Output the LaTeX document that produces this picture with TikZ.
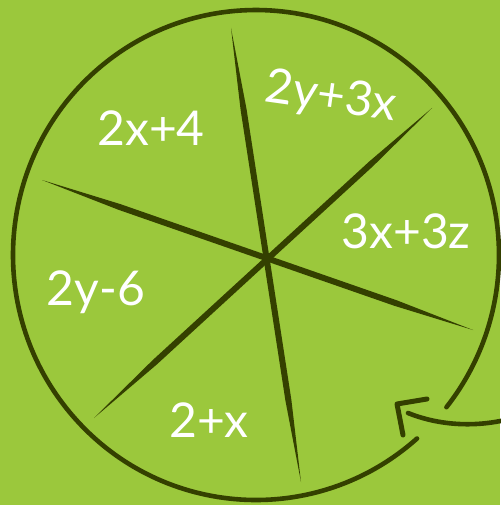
\documentclass[tikz,border=0pt]{standalone}
\usepackage{fontspec}
\setmainfont{Lato}
\usetikzlibrary{calc}
\definecolor{bg}{RGB}{155,200,60}
\definecolor{ink}{RGB}{52,64,0}
\newcommand\taperline[3]{%
 \fill[ink] (#1) -- ($(#1)!0.18!(#2)!#3!90:(#2)$) -- ($(#1)!0.82!(#2)!#3!90:(#2)$) -- (#2) -- ($(#1)!0.82!(#2)!#3!-90:(#2)$) -- ($(#1)!0.18!(#2)!#3!-90:(#2)$) -- cycle;}
\tikzset{
  lbl/.style={text=white, font=\fontsize{48}{48}\selectfont, inner sep=0pt},
  stroke/.style={draw=ink, line width=4.6pt, line cap=round, line join=round}
}
\begin{document}
\begin{tikzpicture}[x=1pt,y=-1pt]
\fill[bg] (0,0) rectangle (500,505);
\useasboundingbox (0,0) rectangle (500,505);
% spokes
\coordinate (v1) at (231,28);  \coordinate (v2) at (301,482);
\coordinate (h1) at (42,180);  \coordinate (h2) at (473,330);
\coordinate (d1) at (432,108); \coordinate (d2) at (94,418);
\taperline{v1}{v2}{3pt}
\taperline{h1}{h2}{3pt}
\taperline{d1}{d2}{3pt}
% circle with gap
\draw[stroke] (417,438.5) arc[start angle=48.5, end angle=398.4, x radius=243, y radius=245];
% arrow
\coordinate (t1) at (408,413);
\coordinate (t2) at (505,420);
\draw[stroke] (t1) .. controls (435,424) and (470,428) .. (t2);
\coordinate (a1) at (427,399);
\coordinate (a2) at (397,404);
\coordinate (a3) at (403,435);
\draw[stroke, line width=5pt] (a1) -- (a2) -- (a3);
% labels
\node[lbl] (n1) at (151,128) {2x+4};
\node[lbl, rotate=-8] (n2) at (331,98) {2y+3x};
\node[lbl] (n3) at (406,231) {3x+3z};
\node[lbl] (n4) at (96,292) {2y-6};
\node[lbl] (n5) at (209,420) {2+x};
\end{tikzpicture}
\end{document}
